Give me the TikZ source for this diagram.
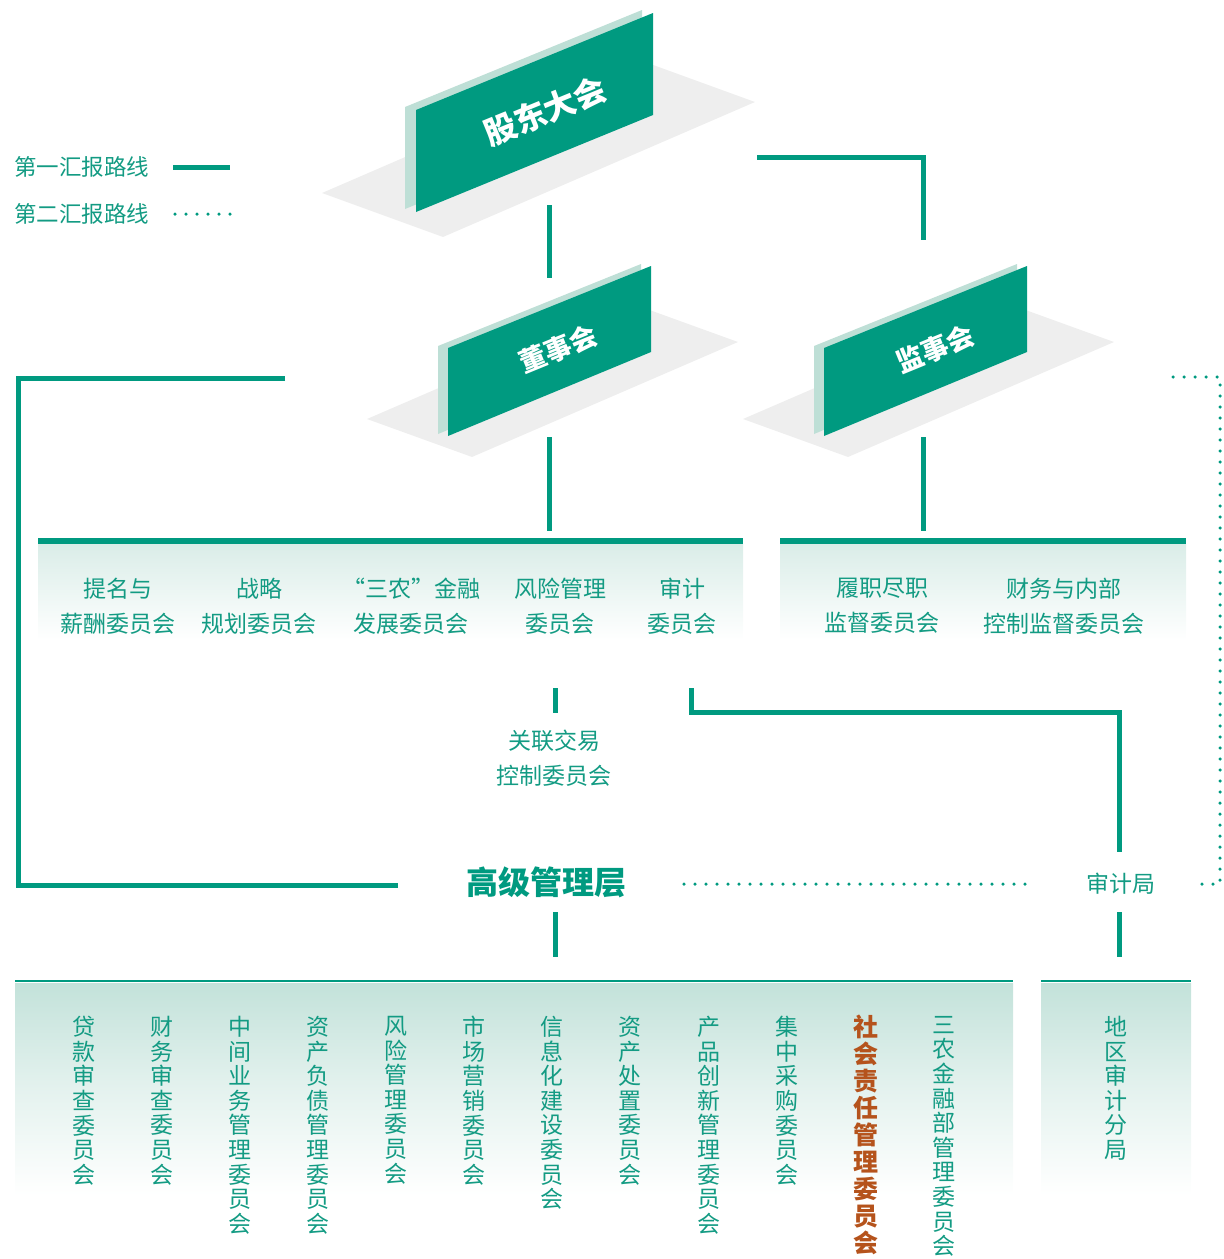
\documentclass[tikz,border=0pt]{standalone}
\usepackage{fontspec}
\setmainfont{Noto Sans CJK SC}
\definecolor{teal1}{HTML}{009A80}
\definecolor{txt}{HTML}{139B83}
\definecolor{panelback}{HTML}{BEDFD6}
\definecolor{ground}{HTML}{EEEEEE}
\definecolor{bandA}{HTML}{DAEDE8}
\definecolor{bandB}{HTML}{C3E2DA}
\definecolor{orange1}{HTML}{B5531C}
\tikzset{
  mainline/.style={draw=teal1, line width=5pt},
  dotline/.style={draw=teal1, line width=3.5pt, line cap=round, dash pattern=on 0pt off 11pt},
  lbl/.style={text=txt, font=\fontsize{23}{35}\selectfont, align=center, inner sep=0pt},
  vlbl/.style={text=txt, font=\fontsize{23}{24.6}\selectfont, align=center, inner sep=0pt, anchor=north},
  paneltitle/.style={text=white, font=\bfseries\fontsize{32}{34}\selectfont, inner sep=0pt, rotate=22.3},
  groundfill/.style={fill=ground},
  backfill/.style={fill=panelback},
  frontfill/.style={fill=teal1},
}
\begin{document}
\begin{tikzpicture}[x=1pt,y=-1pt]
\useasboundingbox (0,0) rectangle (1224,1259);

% ---------- legend ----------
\node[lbl, anchor=west, font=\fontsize{22.5}{24}\selectfont] (leg1) at (14,167) {第一汇报路线};
\node[lbl, anchor=west, font=\fontsize{22.5}{24}\selectfont] (leg2) at (14,214) {第二汇报路线};
\coordinate (l1a) at (173,167); \coordinate (l1b) at (230,167);
\coordinate (l2a) at (175,214); \coordinate (l2b) at (232,214);
\draw[mainline] (l1a) -- (l1b);
\draw[dotline] (l2a) -- (l2b);

% ---------- 股东大会 ----------
\fill[groundfill] (322,193) -- (443,237) -- (755,102) -- (634,58) -- cycle;
\fill[backfill] (405,107) -- (642,10) -- (642,112) -- (405,209) -- cycle;
\fill[frontfill] (416,110) -- (653,13) -- (653,115) -- (416,212) -- cycle;
\node[paneltitle] (gd) at (545,111) {股东大会};

% ---------- 董事会 ----------
\fill[groundfill] (367,419) -- (472,457) -- (738,342) -- (633,304) -- cycle;
\fill[backfill] (438,346) -- (641,264) -- (641,350) -- (438,434) -- cycle;
\fill[frontfill] (448,348) -- (651,266) -- (651,352) -- (448,436) -- cycle;
\node[paneltitle, font=\bfseries\fontsize{27}{29}\selectfont] (ds) at (558,349) {董事会};

% ---------- 监事会 ----------
\fill[groundfill] (743,419) -- (848,457) -- (1114,342) -- (1009,304) -- cycle;
\fill[backfill] (814,346) -- (1017,264) -- (1017,350) -- (814,434) -- cycle;
\fill[frontfill] (824,348) -- (1027,266) -- (1027,352) -- (824,436) -- cycle;
\node[paneltitle, font=\bfseries\fontsize{27}{29}\selectfont] (js) at (935,349) {监事会};

% ---------- committee bands ----------
\shade[top color=bandA, bottom color=white] (38,544) rectangle (743,640);
\draw[draw=teal1, line width=6pt] (38,541) -- (743,541);
\shade[top color=bandA, bottom color=white] (780,544) rectangle (1186,640);
\draw[draw=teal1, line width=6pt] (780,541) -- (1186,541);

\node[lbl] (c1) at (118,606) {提名与\\薪酬委员会};
\node[lbl] (c2) at (259,606) {战略\\规划委员会};
\node[lbl] (c3) at (411,606) {“三农”金融\\发展委员会};
\node[lbl] (c4) at (560,606) {风险管理\\委员会};
\node[lbl] (c5) at (682,606) {审计\\委员会};
\node[lbl] (s1) at (882,606) {履职尽职\\监督委员会};
\node[lbl] (s2) at (1064,606) {财务与内部\\控制监督委员会};

\node[lbl] (gl) at (554,758) {关联交易\\控制委员会};

% ---------- senior management ----------
\node[text=teal1, font=\bfseries\fontsize{32}{34}\selectfont, inner sep=0pt] (gj) at (546,882) {高级管理层};
\node[lbl] (sjj) at (1121,884) {审计局};

% ---------- bottom bands ----------
\shade[top color=bandB, bottom color=white, middle color=bandB!45] (15,983) rectangle (1013,1195);
\draw[draw=teal1, line width=2pt] (15,981) -- (1013,981);
\shade[top color=bandB, bottom color=white, middle color=bandB!45] (1041,983) rectangle (1191,1195);
\draw[draw=teal1, line width=2pt] (1041,981) -- (1191,981);

\node[vlbl] (m1) at (84,1016) {贷\\款\\审\\查\\委\\员\\会};
\node[vlbl] (m2) at (162,1016) {财\\务\\审\\查\\委\\员\\会};
\node[vlbl] (m3) at (240,1016) {中\\间\\业\\务\\管\\理\\委\\员\\会};
\node[vlbl] (m4) at (318,1016) {资\\产\\负\\债\\管\\理\\委\\员\\会};
\node[vlbl] (m5) at (396,1016) {风\\险\\管\\理\\委\\员\\会};
\node[vlbl] (m6) at (474,1016) {市\\场\\营\\销\\委\\员\\会};
\node[vlbl] (m7) at (552,1016) {信\\息\\化\\建\\设\\委\\员\\会};
\node[vlbl] (m8) at (630,1016) {资\\产\\处\\置\\委\\员\\会};
\node[vlbl] (m9) at (709,1016) {产\\品\\创\\新\\管\\理\\委\\员\\会};
\node[vlbl] (m10) at (787,1016) {集\\中\\采\\购\\委\\员\\会};
\node[vlbl, text=orange1, font=\bfseries\fontsize{25}{27}\selectfont] (m11) at (866,1015) {社\\会\\责\\任\\管\\理\\委\\员\\会};
\node[vlbl] (m12) at (944,1016) {三\\农\\金\\融\\部\\管\\理\\委\\员\\会};
\node[vlbl] (r1) at (1116,1016) {地\\区\\审\\计\\分\\局};

% ---------- connector end points ----------
\coordinate (gd-s) at (549,205);
\coordinate (ds-n) at (549,278);
\coordinate (gd-e) at (757,157);
\coordinate (js-n) at (923,240);
\coordinate (ds-s) at (549,437);
\coordinate (cb-n) at (549,531);
\coordinate (js-s) at (923,437);
\coordinate (sb-n) at (923,531);
\coordinate (ds-w) at (285,378);
\coordinate (gj-w) at (398,885);
\coordinate (c4-s) at (555,688);
\coordinate (gl-n) at (555,713);
\coordinate (c5-s) at (691,688);
\coordinate (sjj-n) at (1119,852);
\coordinate (gj-s) at (555,912);
\coordinate (mb-n) at (555,957);
\coordinate (sjj-s) at (1119,912);
\coordinate (rb-n) at (1119,957);
\coordinate (gj-e) at (684,884);
\coordinate (sjj-w) at (1035,884);
\coordinate (js-e) at (1173,377);
\coordinate (sjj-e) at (1198,884);

% ---------- solid connectors ----------
\draw[mainline] (gd-s) -- (ds-n);
\draw[mainline] (gd-e) -| (js-n);
\draw[mainline] (ds-s) -- (cb-n);
\draw[mainline] (js-s) -- (sb-n);
\draw[mainline] (ds-w) -- (18,378) -- (18,885) -- (gj-w);
\draw[mainline] (c4-s) -- (gl-n);
\draw[mainline] (c5-s) -- (691,712) -- (1119,712) -- (sjj-n);
\draw[mainline] (gj-s) -- (mb-n);
\draw[mainline] (sjj-s) -- (rb-n);

% ---------- dotted connectors ----------
\draw[dotline] (gj-e) -- (sjj-w);
\draw[dotline] (js-e) -- (1220,377) -- (1220,884) -- (sjj-e);
\end{tikzpicture}
\end{document}
